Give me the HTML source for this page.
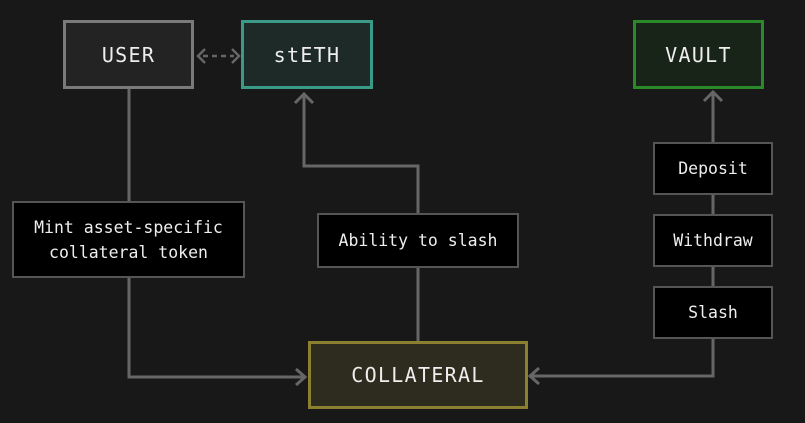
<!DOCTYPE html>
<html><head><style>
body{margin:0;width:805px;height:423px;background:#181818;overflow:hidden;position:relative;font-family:"DejaVu Sans Mono","Liberation Mono",monospace;color:#eee}
.b{position:absolute;box-sizing:border-box;display:flex;align-items:center;justify-content:center;text-align:center}
.big{font-size:20px;letter-spacing:1.3px;border:3px solid}
.sm{font-size:16.5px;background:#000;border:2px solid #555;line-height:25px}
svg{position:absolute;left:0;top:0}
</style></head><body>
<svg width="805" height="423" fill="none" stroke="#666" stroke-width="3">
<path d="M129 89V201M129 277V377H306"/>
<path d="M296 369l9 8-9 8"/>
<path d="M418 213V166H304V94"/>
<path d="M295 103l9-9 9 9"/>
<path d="M418 267V341"/>
<path d="M713 142V92M704 101l9-9 9 9"/>
<path d="M713 194V214M713 266V286M713 338V376H530"/>
<path d="M539 368l-9 8 9 8"/>
<path d="M203 56H234" stroke-dasharray="5 4" stroke-width="2.5"/>
<path d="M205 49l-7 7 7 7M232 49l7 7-7 7" stroke-width="2.5"/>
</svg>
<div class="b big" style="left:63px;top:20px;width:131px;height:69px;border-color:#7a7a7a;background:#232323">USER</div>
<div class="b big" style="left:241px;top:20px;width:132px;height:69px;border-color:#3a9a88;background:#1d2a28">stETH</div>
<div class="b big" style="left:633px;top:20px;width:131px;height:69px;border-color:#2a8a2a;background:#182418">VAULT</div>
<div class="b big" style="left:308px;top:341px;width:220px;height:68px;border-color:#8a8030;background:#2e2c1e">COLLATERAL</div>
<div class="b sm" style="left:12px;top:201px;width:233px;height:77px">Mint asset-specific<br>collateral token</div>
<div class="b sm" style="left:317px;top:213px;width:202px;height:55px">Ability to slash</div>
<div class="b sm" style="left:653px;top:142px;width:120px;height:53px">Deposit</div>
<div class="b sm" style="left:653px;top:214px;width:120px;height:53px">Withdraw</div>
<div class="b sm" style="left:653px;top:286px;width:120px;height:53px">Slash</div>
</body></html>
